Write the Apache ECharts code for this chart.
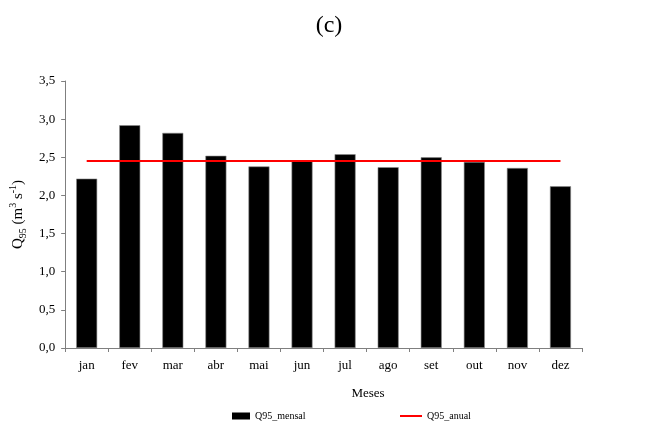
<!DOCTYPE html>
<html>
<head>
<meta charset="utf-8">
<script src="https://cdn.jsdelivr.net/npm/echarts@6/dist/echarts.min.js"></script>
<style>
  html, body { margin: 0; padding: 0; background: #fff; }
  #chart { width: 658px; height: 429px; }
</style>
</head>
<body>
<div id="chart"></div>
<script>
// Monthly Q95 discharge versus the annual Q95 (m³ s⁻¹)
const months = ['jan', 'fev', 'mar', 'abr', 'mai', 'jun', 'jul', 'ago', 'set', 'out', 'nov', 'dez'];
const q95Mensal = [2.22, 2.92, 2.82, 2.52, 2.38, 2.46, 2.54, 2.37, 2.50, 2.44, 2.36, 2.12];
const q95Anual = [2.45, 2.45, 2.45, 2.45, 2.45, 2.45, 2.45, 2.45, 2.45, 2.45, 2.45, 2.45];
const yTicks = { min: 0, max: 3.5, interval: 0.5 };

const serif = '"Liberation Serif", "DejaVu Serif", serif';
const axisGray = '#7f7f7f';

const chart = echarts.init(document.getElementById('chart'), null, { renderer: 'canvas' });

chart.setOption({
  animation: false,
  backgroundColor: '#ffffff',
  textStyle: { fontFamily: serif, color: '#000' },
  grid: { left: 65, right: 76, top: 81, bottom: 81, containLabel: false },
  graphic: [
    {
      type: 'text',
      left: 'center',
      top: 14,
      style: { text: '(c)', font: '24px ' + serif, fill: '#000' }
    },
    {
      type: 'text',
      x: 368,
      y: 394,
      style: { text: 'Meses', font: '13px ' + serif, fill: '#000', align: 'center', verticalAlign: 'middle' }
    }
  ],
  legend: [
    {
      left: 232,
      top: 411,
      padding: 0,
      itemWidth: 18,
      itemHeight: 7,
      textStyle: { fontFamily: serif, fontSize: 10, color: '#000' },
      itemStyle: { borderWidth: 0 },
      data: [{ name: 'Q95_mensal', icon: 'rect' }]
    },
    {
      left: 400,
      top: 411,
      padding: 0,
      itemWidth: 22,
      itemHeight: 2,
      textStyle: { fontFamily: serif, fontSize: 10, color: '#000' },
      data: [{ name: 'Q95_anual', icon: 'rect', itemStyle: { color: '#ff0000', borderWidth: 0 } }]
    }
  ],
  xAxis: {
    type: 'category',
    data: months,
    boundaryGap: true,
    axisLine: { lineStyle: { color: axisGray, width: 1 } },
    axisTick: { show: true, alignWithLabel: false, length: 4, lineStyle: { color: axisGray } },
    axisLabel: { fontFamily: serif, fontSize: 13, color: '#000', margin: 11 },
    splitLine: { show: false }
  },
  yAxis: {
    type: 'value',
    min: yTicks.min,
    max: yTicks.max,
    interval: yTicks.interval,
    name: '{b|Q}{s|95}{b| (m}{p|3}{b| s}{p|-1}{b|)}',
    nameLocation: 'middle',
    nameRotate: 90,
    nameGap: 32,
    nameTextStyle: {
      rich: {
        b: { fontFamily: serif, fontSize: 15, color: '#000', lineHeight: 20, verticalAlign: 'middle' },
        s: { fontFamily: serif, fontSize: 10, color: '#000', lineHeight: 20, verticalAlign: 'bottom' },
        p: { fontFamily: serif, fontSize: 10, color: '#000', lineHeight: 20, verticalAlign: 'top' }
      }
    },
    axisLine: { show: true, lineStyle: { color: axisGray, width: 1 } },
    axisTick: { show: true, length: 4, lineStyle: { color: axisGray } },
    axisLabel: {
      fontFamily: serif, fontSize: 13, color: '#000', margin: 10,
      formatter: v => v.toFixed(1).replace('.', ',')
    },
    splitLine: { show: false }
  },
  series: [
    {
      name: 'Q95_mensal',
      type: 'bar',
      data: q95Mensal,
      barWidth: 21,
      itemStyle: { color: '#000', borderColor: '#8c8c8c', borderWidth: 0.6 }
    },
    {
      name: 'Q95_anual',
      type: 'line',
      data: q95Anual,
      symbol: 'none',
      lineStyle: { color: '#ff0000', width: 2 },
      itemStyle: { color: '#ff0000' },
      z: 3
    }
  ]
});
</script>
</body>
</html>
